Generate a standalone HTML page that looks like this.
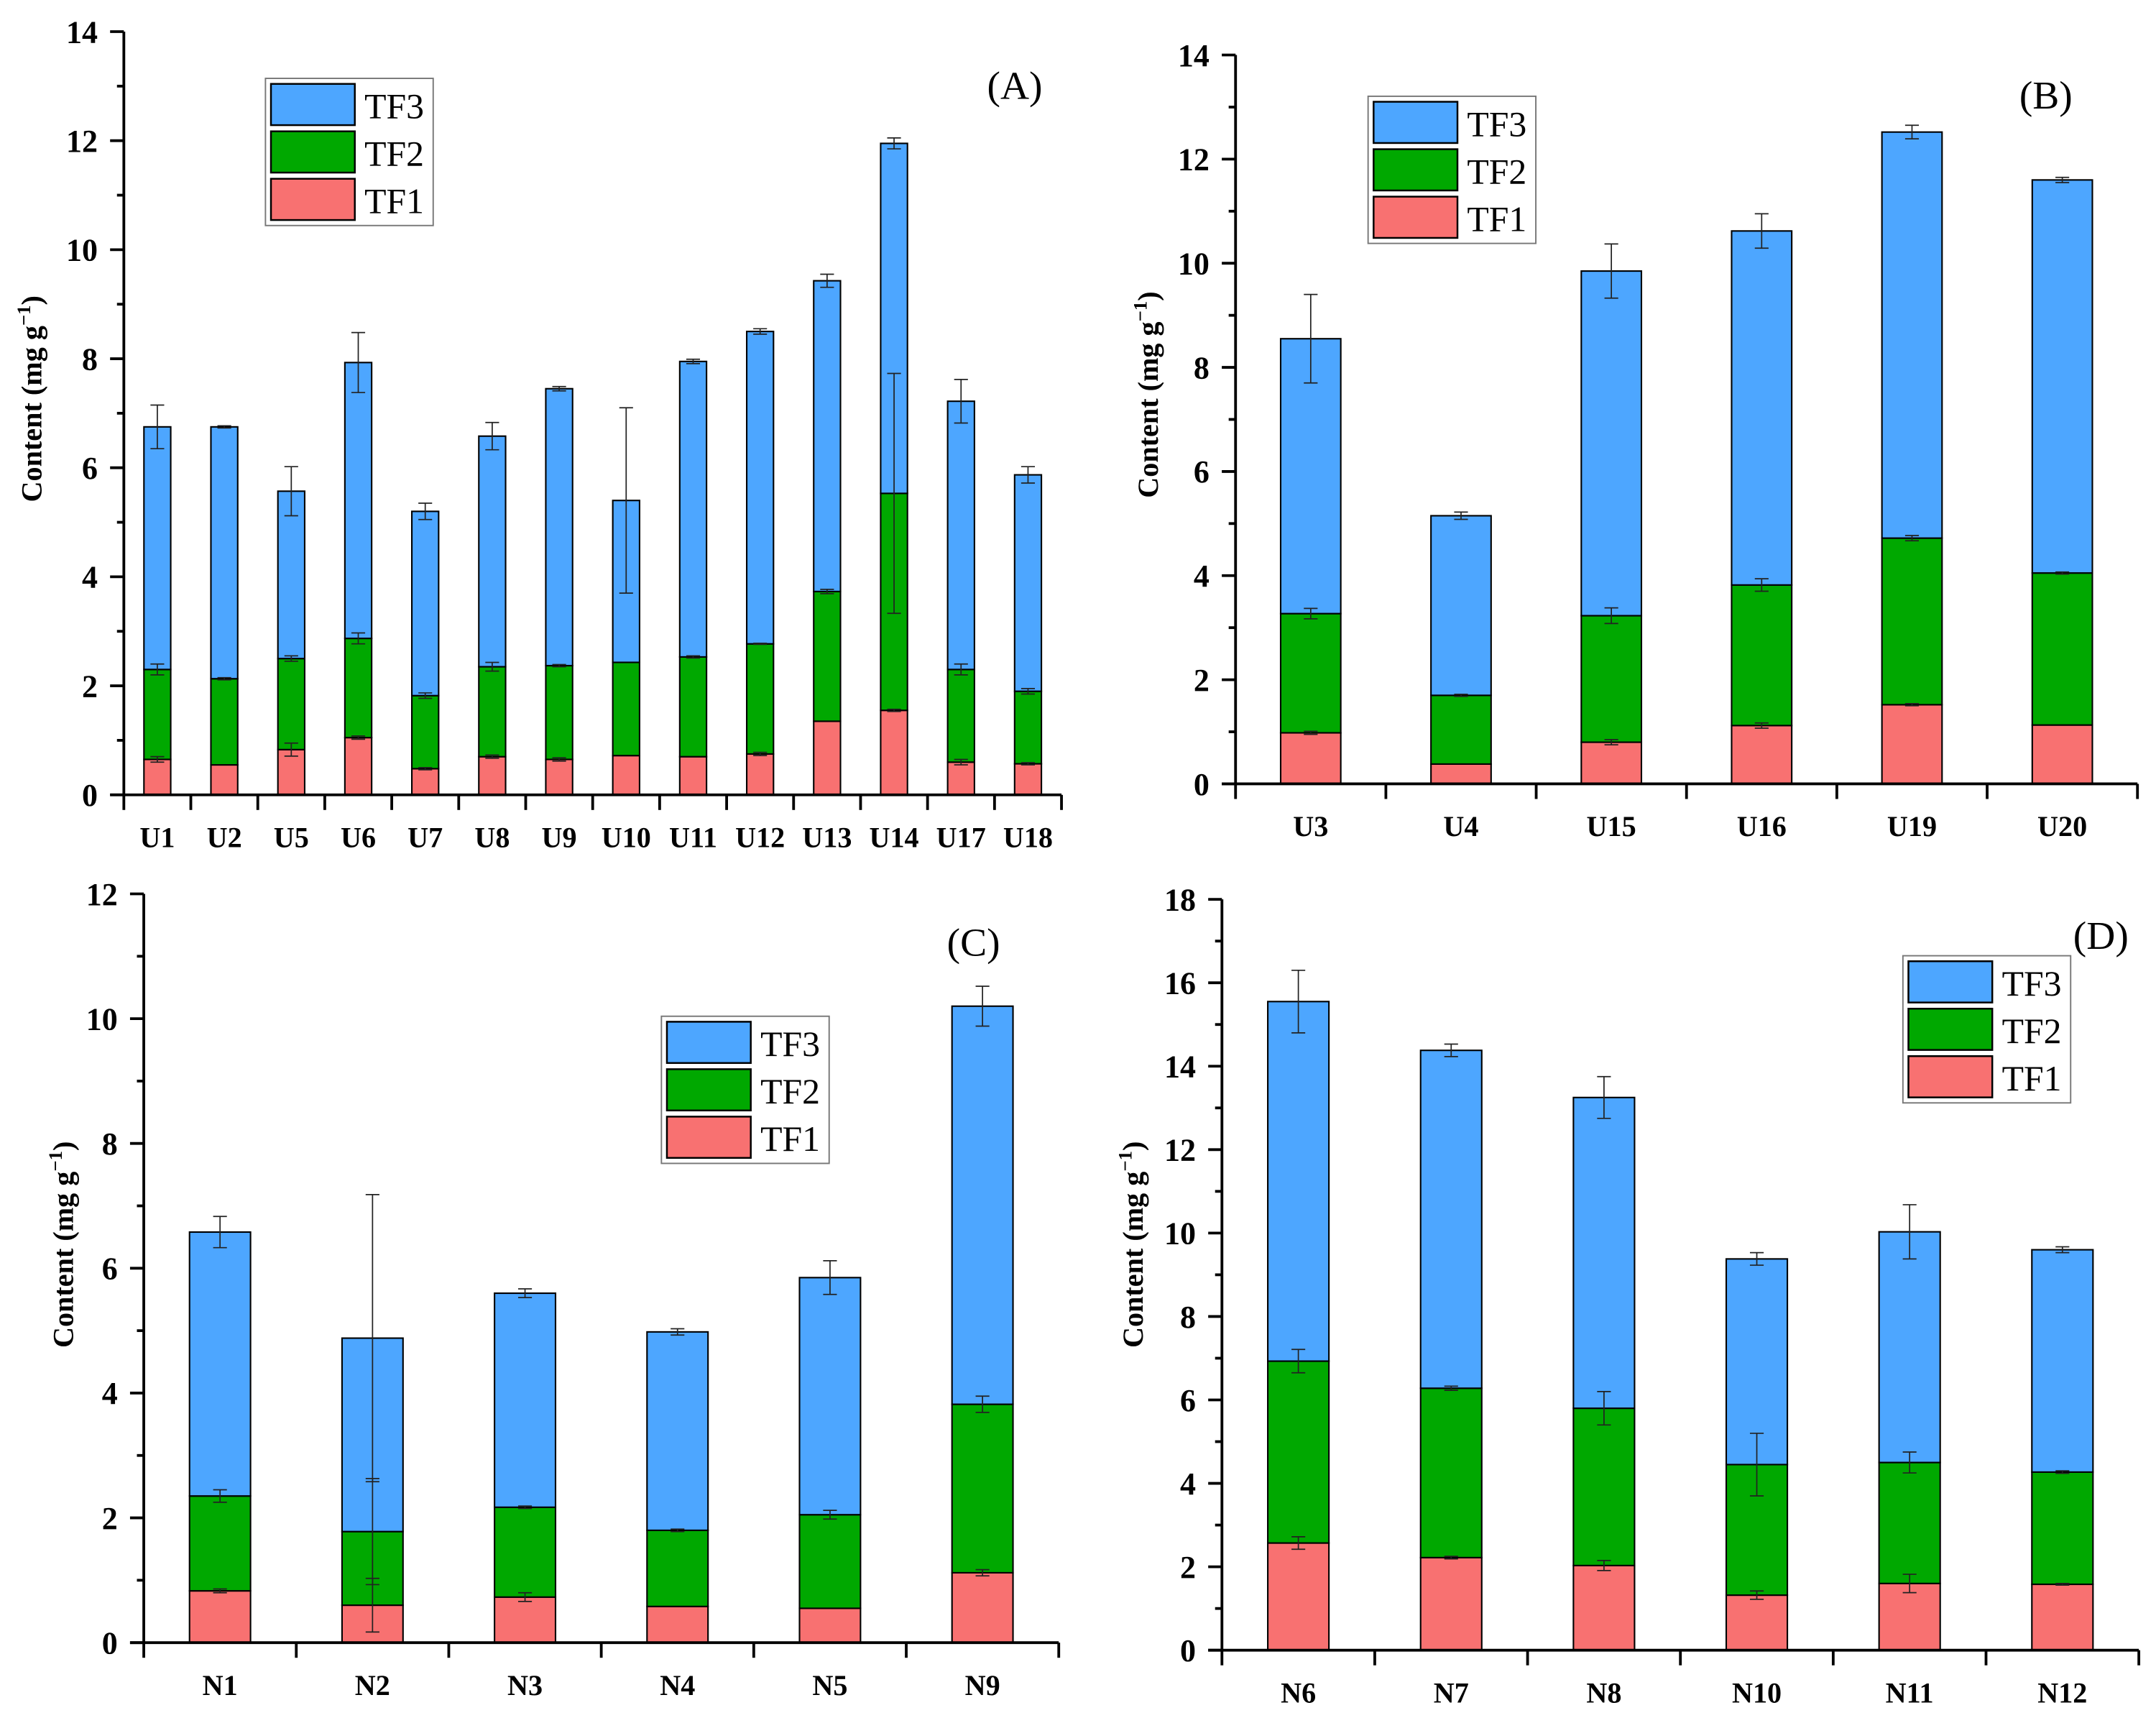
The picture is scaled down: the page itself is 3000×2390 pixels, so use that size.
<!DOCTYPE html>
<html><head><meta charset="utf-8"><style>
html,body{margin:0;padding:0;background:#fff;}
svg{display:block;}
text{font-family:"Liberation Serif",serif;}
</style></head><body>
<svg id="fig" width="3000" height="2390" viewBox="0 0 1568 1249.3" xmlns="http://www.w3.org/2000/svg"></svg>
<script>
// Panel A
const catsA=["U1","U2","U5","U6","U7","U8","U9","U10","U11","U12","U13","U14","U17","U18"];
const tf1A=[0.65,0.55,0.83,1.05,0.48,0.70,0.65,0.72,0.70,0.75,1.35,1.55,0.60,0.57];
const tf2A=[1.65,1.58,1.67,1.82,1.34,1.65,1.72,1.71,1.83,2.02,2.38,3.98,1.70,1.33];
const tf3A=[4.45,4.62,3.07,5.06,3.38,4.23,5.08,2.97,5.42,5.73,5.70,6.42,4.92,3.97];
const e1A=[0.05,0,0.12,0.03,0.02,0.03,0.03,0,0,0.03,0,0.02,0.05,0.02];
const e2A=[0.1,0.02,0.05,0.1,0.05,0.08,0.02,0,0.02,0.01,0.04,2.2,0.1,0.05];
const e3A=[0.4,0.02,0.45,0.55,0.15,0.25,0.04,1.7,0.04,0.05,0.12,0.1,0.4,0.15];
// Panel B
const catsB=["U3","U4","U15","U16","U19","U20"];
const tf1B=[0.98,0.38,0.80,1.12,1.52,1.13];
const tf2B=[2.29,1.32,2.43,2.70,3.20,2.92];
const tf3B=[5.28,3.45,6.62,6.80,7.80,7.55];
const e1B=[0.03,0,0.05,0.05,0.02,0];
const e2B=[0.1,0.02,0.15,0.12,0.05,0.02];
const e3B=[0.85,0.07,0.52,0.33,0.13,0.05];
// Panel C
const catsC=["N1","N2","N3","N4","N5","N9"];
const tf1C=[0.83,0.60,0.73,0.58,0.55,1.12];
const tf2C=[1.52,1.18,1.44,1.22,1.50,2.70];
const tf3C=[4.23,3.10,3.43,3.18,3.80,6.38];
const e1C=[0.03,0.43,0.07,0,0,0.05];
const e2C=[0.1,0.85,0.02,0.02,0.07,0.13];
const e3C=[0.25,2.3,0.07,0.05,0.27,0.32];
// Panel D
const catsD=["N6","N7","N8","N10","N11","N12"];
const tf1D=[2.57,2.22,2.03,1.32,1.60,1.58];
const tf2D=[4.36,4.06,3.77,3.13,2.90,2.69];
const tf3D=[8.62,8.10,7.45,4.93,5.53,5.33];
const e1D=[0.15,0.03,0.12,0.1,0.22,0.02];
const e2D=[0.28,0.05,0.4,0.75,0.25,0.03];
const e3D=[0.75,0.15,0.5,0.15,0.65,0.07];

const NS="http://www.w3.org/2000/svg";
const svg=document.getElementById('fig');
const COL=["#f87171","#00a800","#4da6ff"];
function mk(tag,attrs,parent){const e=document.createElementNS(NS,tag);for(const k in attrs)e.setAttribute(k,attrs[k]);(parent||svg).appendChild(e);return e;}

function panel(p){
  const g=mk('g',{});
  
  
  const yS=v=>p.y0-(v/p.ymax)*(p.y0-p.ytop);
  const n=p.cats.length, step=(p.xr-p.x0)/n;
  const bw=step*0.4;
  const xC=i=>p.x0+step*(i+0.5);
  p.cats.forEach((c,i)=>{
    const segs=[p.s1[i],p.s2[i],p.s3[i]], errs=[p.e1[i],p.e2[i],p.e3[i]];
    let base=0;
    segs.forEach((v,k)=>{
      const r=mk('rect',{x:xC(i)-bw/2,y:yS(base+v),width:bw,height:yS(base)-yS(base+v),fill:COL[k],stroke:'#000','stroke-width':1.1},g);
      
      
      base+=v;
    });
    base=0;
    segs.forEach((v,k)=>{
      base+=v; const e=errs[k];
      if(e>0){
        const x=xC(i), yt=yS(base+e), yb=yS(base-e);
        const eg=mk('g',{stroke:'#222','stroke-width':0.9},g);
        
        
        mk('line',{x1:x,x2:x,y1:yt,y2:yb},eg);
        mk('line',{x1:x-5,x2:x+5,y1:yt,y2:yt},eg);
        mk('line',{x1:x-5,x2:x+5,y1:yb,y2:yb},eg);
      }
    });
  });
  const ax=mk('g',{stroke:'#000','stroke-width':2},g);
  
  
  mk('line',{x1:p.x0,x2:p.x0,y1:p.ytop,y2:p.y0+1},ax);
  mk('line',{x1:p.x0-10,x2:p.xr,y1:p.y0,y2:p.y0},ax);
  for(let v=0;v<=p.ymax+1e-9;v+=p.tick/2){
    const major=Math.abs(v/p.tick-Math.round(v/p.tick))<1e-6;
    mk('line',{x1:p.x0-(major?10:5),x2:p.x0,y1:yS(v),y2:yS(v)},ax);
    if(major){
      const t=mk('text',{x:p.x0-19,y:yS(v)+8,'text-anchor':'end','font-size':23,'font-weight':'bold',fill:'#000'},g);
      t.textContent=String(Math.round(v));
      
      
    }
  }
  for(let i=0;i<=n;i++){
    mk('line',{x1:p.x0+step*i,x2:p.x0+step*i,y1:p.y0,y2:p.y0+11},ax);
  }
  p.cats.forEach((c,i)=>{
    const t=mk('text',{x:xC(i),y:p.y0+38,'text-anchor':'middle','font-size':21,'font-weight':'bold',fill:'#000'},g);
    t.textContent=c;
    
    
  });
  const yt=mk('text',{x:0,y:0,transform:`translate(${p.tx},${p.ty}) rotate(-90)`,'text-anchor':'middle','font-size':21,'font-weight':'bold',fill:'#000'},g);
  
  
  yt.innerHTML='Content (mg g<tspan dy="-8" font-size="14">−1</tspan><tspan dy="8">)</tspan>';
  const pl=mk('text',{x:p.lx,y:p.ly,'text-anchor':'middle','font-size':29,fill:'#000'},g);
  pl.textContent='('+p.id+')';
  
  
  const lg=mk('g',{},g);
  
  
  mk('rect',{x:p.gx,y:p.gy,width:122,height:107,fill:'#fff',stroke:'#777','stroke-width':1},lg);
  ["TF3","TF2","TF1"].forEach((nm,k)=>{
    const e=mk('g',{},lg);
    
    
    const yy=p.gy+4+k*34.5;
    mk('rect',{x:p.gx+4,y:yy,width:61,height:30,fill:COL[2-k],stroke:'#000','stroke-width':1.3},e);
    const t=mk('text',{x:p.gx+72,y:yy+25,'font-size':26,fill:'#000'},e);
    t.textContent=nm;
  });
}
panel({id:'A',cats:catsA,s1:tf1A,s2:tf2A,s3:tf3A,e1:e1A,e2:e2A,e3:e3A,x0:90,xr:772,ytop:23,y0:578,ymax:14,tick:2,tx:30,ty:290,lx:738,ly:72,gx:193,gy:57});
panel({id:'B',cats:catsB,s1:tf1B,s2:tf2B,s3:tf3B,e1:e1B,e2:e2B,e3:e3B,x0:898.6,xr:1554.6,ytop:40,y0:570,ymax:14,tick:2,tx:842,ty:287,lx:1488,ly:79,gx:995,gy:70});
panel({id:'C',cats:catsC,s1:tf1C,s2:tf2C,s3:tf3C,e1:e1C,e2:e2C,e3:e3C,x0:104.5,xr:770,ytop:650,y0:1194.5,ymax:12,tick:2,tx:53,ty:905,lx:708,ly:695,gx:481,gy:739});
panel({id:'D',cats:catsD,s1:tf1D,s2:tf2D,s3:tf3D,e1:e1D,e2:e2D,e3:e3D,x0:888.7,xr:1555.6,ytop:654,y0:1200,ymax:18,tick:2,tx:831,ty:905,lx:1528,ly:690,gx:1384,gy:695});
</script>
</body></html>
